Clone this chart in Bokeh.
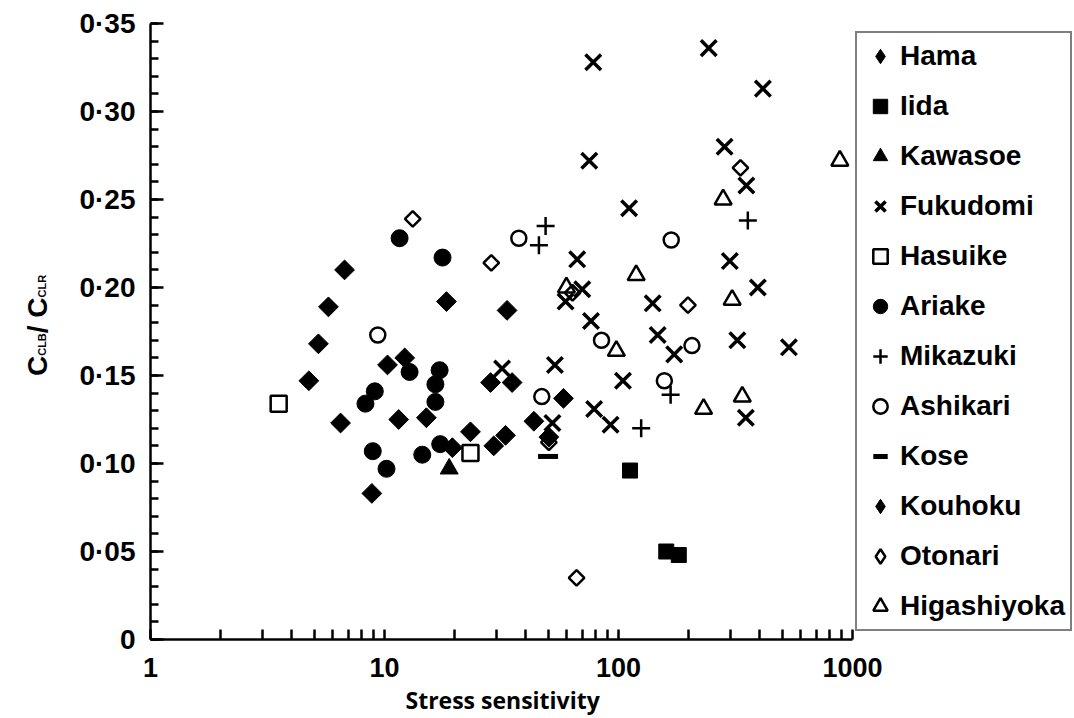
import math
from bokeh.plotting import figure
from bokeh.layouts import row
from bokeh.models import (Range1d, FixedTicker, CustomJSTickFormatter, Legend,
                          LegendItem, Label, Title)
from bokeh.embed import file_html
from bokeh.resources import INLINE

# ---------------- data ----------------
hama_x = [4.75, 5.22, 5.76, 6.49, 6.75, 8.83, 10.3, 11.5, 12.2, 15.1, 18.4, 19.5, 23.3]
hama_y = [0.147, 0.168, 0.189, 0.123, 0.210, 0.083, 0.156, 0.125, 0.160, 0.126, 0.192, 0.109, 0.118]

iida_x = [112, 160, 181]
iida_y = [0.096, 0.050, 0.048]

kawasoe_x = [18.9]
kawasoe_y = [0.097]

fukudomi_x = [78, 243, 414, 284, 75, 352, 111, 66.6, 299, 70, 59.4, 394, 140, 76.3,
              147, 173, 322, 535, 53.5, 31.8, 104.5, 350, 78.7, 92.5, 52.2]
fukudomi_y = [0.328, 0.336, 0.313, 0.280, 0.272, 0.258, 0.245, 0.216, 0.215, 0.199, 0.192,
              0.200, 0.191, 0.181, 0.173, 0.162, 0.170, 0.166, 0.156, 0.154, 0.147, 0.126,
              0.131, 0.122, 0.123]

hasuike_x = [3.53, 23.3]
hasuike_y = [0.134, 0.106]

ariake_x = [11.6, 17.7, 12.8, 17.2, 16.5, 16.5, 9.09, 8.29, 8.91, 10.2, 14.5, 17.3]
ariake_y = [0.228, 0.217, 0.152, 0.153, 0.145, 0.135, 0.141, 0.134, 0.107, 0.097, 0.105, 0.111]

mikazuki_x = [48.8, 45.7, 357, 167, 125]
mikazuki_y = [0.235, 0.224, 0.238, 0.139, 0.120]

ashikari_x = [9.36, 37.5, 168, 84.6, 206, 157, 47.0]
ashikari_y = [0.173, 0.228, 0.227, 0.170, 0.167, 0.147, 0.138]

kose_x = [50.0]
kose_y = [0.104]

kouhoku_x = [28.4, 29.3, 32.9, 33.4, 35.1, 43.5, 50.4, 58.2]
kouhoku_y = [0.146, 0.110, 0.116, 0.187, 0.146, 0.124, 0.115, 0.137]

otonari_x = [13.2, 28.6, 63.6, 198, 332, 66.2, 50.4]
otonari_y = [0.239, 0.214, 0.197, 0.190, 0.268, 0.035, 0.112]

higashiyoka_x = [883, 280, 119, 59.9, 306, 97.9, 231, 338]
higashiyoka_y = [0.272, 0.250, 0.207, 0.200, 0.193, 0.164, 0.131, 0.138]

x_ticks = [1, 10, 100, 1000]
y_ticks = [0, 0.05, 0.10, 0.15, 0.20, 0.25, 0.30, 0.35]

FONT = "Liberation Sans"
K = "black"
TITLE_W = 60
H = 718
FRAME_BOTTOM = 639         # frames in a row are aligned: bottom of the plotting area
DECADE_PX = 234.0          # pixel length of one decade on the x axis
AXIS_END_PX = 702.0        # x axis runs from 1 to 1000 over 3 decades
FRAME_W = 924.0            # frame extends under the legend box

# ---------------- y-axis title panel (C_CLB / C_CLR with subscripts) ----------------
tp = figure(width=TITLE_W, height=H, title=None,
            x_range=Range1d(0, TITLE_W), y_range=Range1d(0, H),
            x_axis_location=None, y_axis_location=None,
            output_backend="svg", toolbar_location=None,
            min_border=0, min_border_left=0, min_border_right=0,
            min_border_top=0, min_border_bottom=0)
tp.grid.visible = False
tp.outline_line_color = None
tp.background_fill_color = "white"
tp.border_fill_color = "white"

# (text, font size px, baseline x px, start y px from top of the picture)
pieces = [("C", 28, 37, 375.5), ("CLB", 11, 41, 355.3), ("/ C", 28, 37, 332.7), ("CLR", 11, 41, 296.9)]
for txt, fs, bx, by in pieces:
    tp.add_layout(Label(x=bx, y=FRAME_BOTTOM - by, x_units="screen", y_units="screen",
                        text=txt, angle=math.pi / 2,
                        text_font=FONT, text_font_style="bold", text_font_size=f"{fs}px",
                        text_color=K, text_align="left", text_baseline="alphabetic"))

# ---------------- main figure ----------------
x_end = 10 ** (FRAME_W / DECADE_PX)
p = figure(width=1074 - TITLE_W, height=H, x_axis_type="log",
           x_range=Range1d(1, x_end), y_range=Range1d(0, 0.35),
           output_backend="svg", toolbar_location=None,
           min_border_left=150 - TITLE_W, min_border_right=0,
           min_border_top=23, min_border_bottom=H - FRAME_BOTTOM)
p.outline_line_color = None
p.grid.visible = False
p.background_fill_color = "white"
p.border_fill_color = "white"

p.xaxis.bounds = (1, 1000)
p.xaxis.ticker = FixedTicker(ticks=x_ticks,
                             minor_ticks=[m * 10 ** e for e in range(3) for m in range(2, 10)])
p.xaxis.formatter = CustomJSTickFormatter(code="return tick.toFixed(0);")
p.yaxis.ticker = FixedTicker(ticks=y_ticks, minor_ticks=[i / 100 for i in range(36)])
p.yaxis.formatter = CustomJSTickFormatter(
    code="return tick == 0 ? '0' : tick.toFixed(2).replace('.', '\u00b7');")

for ax in (p.xaxis[0], p.yaxis[0]):
    ax.axis_line_width = 2.5
    ax.axis_line_color = K
    ax.major_tick_line_width = 2.5
    ax.minor_tick_line_width = 2.5
    ax.major_tick_line_color = K
    ax.minor_tick_line_color = K
    ax.major_tick_out = 0
    ax.minor_tick_out = 0
    ax.major_label_text_font = FONT
    ax.major_label_text_font_style = "bold"
    ax.major_label_text_color = K

p.yaxis.major_tick_in = 13
p.yaxis.minor_tick_in = 8
p.yaxis.major_label_text_font_size = "28px"
p.yaxis.major_label_standoff = 15

p.xaxis.major_tick_in = 10
p.xaxis.minor_tick_in = 10
p.xaxis.major_label_text_font_size = "27px"
p.xaxis.major_label_standoff = 18

p.add_layout(Title(text="Stress sensitivity", align="left", offset=255, standoff=5,
                   text_font="Open Sans", text_font_style="bold", text_font_size="23px",
                   text_color=K), "below")

# ---------------- series ----------------
r_hama = p.scatter(hama_x, hama_y, marker="square", angle=math.pi / 4, size=14,
                   fill_color=K, line_color=K)
r_iida = p.scatter(iida_x, iida_y, marker="square", size=15, fill_color=K, line_color=K)
r_kawasoe = p.scatter(kawasoe_x, kawasoe_y, marker="triangle", size=18, fill_color=K, line_color=K)
r_fuku = p.scatter(fukudomi_x, fukudomi_y, marker="x", size=22, line_color=K, line_width=3.5)
r_hasu = p.scatter(hasuike_x, hasuike_y, marker="square", size=16, fill_color=None,
                   line_color=K, line_width=2.5)
r_ariake = p.scatter(ariake_x, ariake_y, marker="circle", size=17, fill_color=K, line_color=K)
r_mika = p.scatter(mikazuki_x, mikazuki_y, marker="cross", size=18, line_color=K, line_width=2.5)
r_ashi = p.scatter(ashikari_x, ashikari_y, marker="circle", size=15, fill_color=None,
                   line_color=K, line_width=2.5)
r_kose = p.scatter(kose_x, kose_y, marker="dash", size=20, line_color=K, line_width=5)
r_kou = p.scatter(kouhoku_x, kouhoku_y, marker="square", angle=math.pi / 4, size=14,
                  fill_color=K, line_color=K)
r_oto = p.scatter(otonari_x, otonari_y, marker="square", angle=math.pi / 4, size=11,
                  fill_color=None, line_color=K, line_width=2.5)
r_higa = p.scatter(higashiyoka_x, higashiyoka_y, marker="triangle", size=17, fill_color=None,
                   line_color=K, line_width=2.5)

# legend swatches for the diamond series (the legend does not rotate markers);
# zero-size in the plot, the legend draws them at its own swatch size
lg_hama = p.scatter(hama_x, hama_y, marker="diamond", size=0, fill_color=K, line_color=K)
lg_kou = p.scatter(kouhoku_x, kouhoku_y, marker="diamond", size=0, fill_color=K, line_color=K)
lg_oto = p.scatter(otonari_x, otonari_y, marker="diamond", size=0, fill_color=None,
                   line_color=K, line_width=2.5)

legend = Legend(items=[
    LegendItem(label="Hama", renderers=[lg_hama]),
    LegendItem(label="Iida", renderers=[r_iida]),
    LegendItem(label="Kawasoe", renderers=[r_kawasoe]),
    LegendItem(label="Fukudomi", renderers=[r_fuku]),
    LegendItem(label="Hasuike", renderers=[r_hasu]),
    LegendItem(label="Ariake", renderers=[r_ariake]),
    LegendItem(label="Mikazuki", renderers=[r_mika]),
    LegendItem(label="Ashikari", renderers=[r_ashi]),
    LegendItem(label="Kose", renderers=[r_kose]),
    LegendItem(label="Kouhoku", renderers=[lg_kou]),
    LegendItem(label="Otonari", renderers=[lg_oto]),
    LegendItem(label="Higashiyoka", renderers=[r_higa]),
], location=(AXIS_END_PX + 3, 8))
legend.border_line_color = K
legend.border_line_width = 2.5
legend.background_fill_color = "white"
legend.background_fill_alpha = 1
legend.label_text_font = FONT
legend.label_text_font_style = "bold"
legend.label_text_font_size = "28px"
legend.label_text_color = K
legend.glyph_width = 36
legend.glyph_height = 36
legend.label_height = 36
legend.label_standoff = 2
legend.spacing = 14
legend.padding = 5
legend.margin = 0
p.add_layout(legend)

layout = row(tp, p)
open("out.html", "w").write(file_html(layout, INLINE))
